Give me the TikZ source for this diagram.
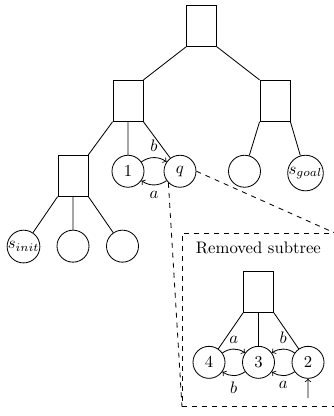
\documentclass[tikz,border=0pt]{standalone}
\usetikzlibrary{positioning}
\tikzset{
    choicenode/.style = {draw, minimum width=18pt, minimum height=24.6pt, anchor=north},
    statenode/.style = {draw, circle, minimum size=19.2pt, inner sep=0pt, anchor=north},
    fromsw/.style = {edge from parent path={(\tikzparentnode.south west) -- (\tikzchildnode)}},
    froms/.style = {edge from parent path={(\tikzparentnode.south) -- (\tikzchildnode)}},
    fromse/.style = {edge from parent path={(\tikzparentnode.south east) -- (\tikzchildnode)}}
}
\begin{document}
\begin{tikzpicture}
    [
        x = 0.6pt, y = 0.6pt,
        line width = 0.5pt,
        level distance = 32.4pt,
        level 1/.style = {sibling distance = 88.2pt},
        level 2/.style = {sibling distance = 31.2pt},
        level 3/.style = {sibling distance = 29.7pt}
    ]
        \useasboundingbox (0,0) rectangle (333,-416);

        \node[choicenode] (root) at (201.5,-5) {}
        child[edge from parent path={(\tikzparentnode.south west) -- (\tikzchildnode.north east)}] {
            node[choicenode] (left) {}
            child[fromsw, xshift=-1.8pt] {
                node[choicenode] (lower) {}
                child[fromsw] {node[statenode] (sinit) {$s_{init}$}}
                child[froms] {node[statenode] (u1) {}}
                child[fromse] {node[statenode] (u2) {}}
            }
            child[froms] {node[statenode] (n1) {1}}
            child[fromse] {node[statenode] (q) {$q$}}
        }
        child[edge from parent path={(\tikzparentnode.south east) -- (\tikzchildnode.north west)}] {
            node[choicenode] (right) {}
            child[fromsw, sibling distance=36.6pt] {node[statenode] (v1) {}}
            child[fromse, sibling distance=36.6pt] {node[statenode] (sgoal) {$s_{goal}$}}
        }
        ;

        \draw[->] (n1) to[bend left=35] node[above] {$b$} (q);
        \draw[->] (q) to[bend left=35] node[below] {$a$} (n1);

        \node[draw, dashed, anchor=north west, minimum width=91.2pt, minimum height=103.8pt] (box) at (182,-233) {};
        \node[below=1.8pt of box.north] (title) {Removed subtree};
        \draw[dashed] (q.east) -- (box.north east);
        \draw[dashed] (q.south west) -- (box.south west);

        \begin{scope}[level 1/.style = {sibling distance = 29.7pt}]
        \node[choicenode] (sub) at (258.5,-271) {}
        child[fromsw] {node[statenode] (r4) {4}}
        child[froms] {node[statenode] (r3) {3}}
        child[fromse] {node[statenode] (r2) {2}}
        ;
        \end{scope}

        \draw[->] (r4) to[bend left=35] node[above] {$a$} (r3);
        \draw[->] (r3) to[bend left=35] node[below] {$b$} (r4);
        \draw[->] (r2) to[bend right=35] node[above] {$b$} (r3);
        \draw[->] (r2) to[bend left=35] node[below] {$a$} (r3);
        \coordinate (start) at (308,-398);
        \draw[->] (start) -- (r2);
    \end{tikzpicture}
\end{document}
